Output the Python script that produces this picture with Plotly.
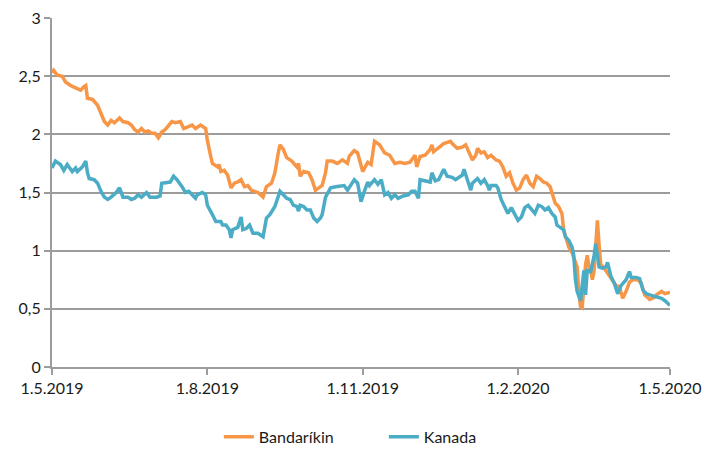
import pandas as pd
import plotly.graph_objects as go

start = pd.Timestamp("2019-05-01")

# Bandaríkin: days since 1.5.2019 and values
us_days = [0,1,3,6,8,11,14,17,19,20,21,24,27,29,31,33,35,37,40,42,45,47,49,51,53,55,57,59,61,63,
           65,67,69,71,73,76,78,80,83,85,88,91,92,94,95,98,99,100,102,104,106,108,110,112,114,116,118,120,122,125,
           127,130,132,134,135,137,139,142,145,146,147,149,152,154,156,158,160,162,163,166,169,172,175,176,179,181,184,187,189,191,
           194,197,200,203,206,209,212,215,216,218,221,224,225,226,229,232,236,237,240,243,245,246,249,251,252,254,256,258,260,263,
           265,267,269,271,273,275,277,279,281,283,285,287,289,291,293,295,297,298,300,302,303,304,306,308,311,312,313,314,315,316,
           317,318,319,320,321,322,323,324,325,327,329,331,333,334,336,338,340,342,344,347,349,350,351,354,357,358,361,363,366]
us_vals = [2.53,2.55,2.51,2.50,2.45,2.42,2.40,2.38,2.41,2.42,2.31,2.30,2.25,2.17,2.11,2.08,2.12,2.10,2.14,2.11,2.10,2.08,2.04,2.02,2.05,2.02,2.03,2.01,2.01,1.97,
           2.02,2.04,2.07,2.11,2.10,2.11,2.05,2.06,2.08,2.05,2.08,2.05,1.95,1.81,1.75,1.72,1.74,1.68,1.69,1.65,1.54,1.58,1.59,1.61,1.55,1.56,1.52,1.51,1.50,1.46,
           1.55,1.58,1.67,1.84,1.91,1.87,1.80,1.77,1.72,1.75,1.64,1.68,1.67,1.61,1.52,1.54,1.56,1.67,1.77,1.77,1.75,1.78,1.75,1.81,1.86,1.84,1.68,1.76,1.74,1.94,
           1.91,1.84,1.82,1.75,1.76,1.75,1.76,1.82,1.72,1.81,1.82,1.87,1.91,1.85,1.89,1.92,1.94,1.92,1.88,1.89,1.91,1.88,1.78,1.82,1.88,1.84,1.85,1.80,1.82,1.78,
           1.77,1.72,1.64,1.67,1.58,1.52,1.54,1.61,1.65,1.58,1.55,1.64,1.62,1.59,1.58,1.55,1.46,1.41,1.38,1.32,1.18,1.12,1.03,0.98,0.86,0.65,0.52,0.51,0.75,0.88,
           0.96,0.86,0.83,0.75,0.82,1.02,1.26,1.05,0.88,0.85,0.81,0.77,0.73,0.70,0.69,0.59,0.65,0.73,0.75,0.75,0.72,0.66,0.62,0.58,0.60,0.62,0.65,0.63,0.64]

# Kanada
ca_days = [0,2,5,7,9,12,14,15,18,20,21,22,25,27,29,31,33,35,38,40,42,45,47,49,51,53,56,58,62,64,
           65,68,70,72,74,77,79,81,83,85,86,89,91,92,95,97,100,101,103,105,106,107,110,112,113,115,117,119,122,125,
           127,129,132,135,137,139,141,143,145,146,147,149,151,153,155,157,159,160,162,165,168,171,173,175,177,179,181,183,185,187,
           188,191,193,195,197,199,201,203,205,208,211,213,215,217,218,221,224,225,227,229,232,234,237,239,241,243,244,246,248,249,
           252,254,256,258,259,260,263,264,266,268,270,272,274,276,278,280,282,284,286,288,290,292,294,296,298,299,301,303,304,306,
           308,309,310,311,313,314,315,316,317,319,321,322,323,324,326,328,329,331,333,335,337,340,342,343,346,348,350,352,354,356,
           358,361,363,366]
ca_vals = [1.71,1.77,1.74,1.69,1.74,1.68,1.71,1.68,1.72,1.77,1.67,1.62,1.61,1.58,1.51,1.46,1.44,1.46,1.50,1.54,1.46,1.46,1.44,1.45,1.48,1.46,1.50,1.46,1.46,1.47,
           1.58,1.59,1.59,1.64,1.61,1.55,1.50,1.51,1.48,1.45,1.48,1.50,1.48,1.39,1.31,1.25,1.25,1.22,1.22,1.18,1.11,1.18,1.20,1.29,1.18,1.19,1.22,1.15,1.15,1.12,
           1.28,1.31,1.38,1.51,1.48,1.45,1.44,1.39,1.38,1.34,1.39,1.38,1.35,1.35,1.28,1.25,1.28,1.31,1.46,1.54,1.55,1.56,1.56,1.52,1.56,1.61,1.58,1.42,1.51,1.59,
           1.56,1.61,1.57,1.61,1.48,1.50,1.45,1.48,1.45,1.47,1.48,1.51,1.51,1.45,1.61,1.60,1.59,1.67,1.60,1.61,1.70,1.64,1.63,1.61,1.63,1.65,1.70,1.61,1.52,1.58,
           1.62,1.58,1.61,1.56,1.52,1.56,1.56,1.54,1.44,1.38,1.32,1.37,1.31,1.26,1.29,1.37,1.39,1.35,1.32,1.39,1.38,1.35,1.37,1.32,1.29,1.22,1.20,1.18,1.12,1.09,
           1.03,0.96,0.75,0.65,0.57,0.69,0.83,0.62,0.83,0.82,0.95,1.06,0.95,0.86,0.85,0.86,0.90,0.78,0.72,0.63,0.70,0.75,0.82,0.77,0.77,0.76,0.66,0.63,0.62,0.61,
           0.60,0.59,0.57,0.53]

tick_dates = ["2019-05-01", "2019-08-01", "2019-11-01", "2020-02-01", "2020-05-01"]
tick_labels = ["1.5.2019", "1.8.2019", "1.11.2019", "1.2.2020", "1.5.2020"]

us_x = start + pd.to_timedelta(us_days, unit="D")
ca_x = start + pd.to_timedelta(ca_days, unit="D")

ORANGE = "#F79646"
TEAL = "#4BACC6"
GRID = "#9c9c9c"

fig = go.Figure()
fig.add_trace(go.Scatter(x=us_x, y=us_vals, mode="lines", name="Bandaríkin",
                         line=dict(color=ORANGE, width=3.5)))
fig.add_trace(go.Scatter(x=ca_x, y=ca_vals, mode="lines", name="Kanada",
                         line=dict(color=TEAL, width=3.5)))

fig.update_layout(
    width=707, height=451,
    margin=dict(l=52, r=37, t=18, b=84, autoexpand=False),
    paper_bgcolor="white", plot_bgcolor="white",
    separators=", ",
    font=dict(family="Lato, Carlito, sans-serif", size=16, color="#1a1a1a"),
    showlegend=True,
    legend=dict(orientation="h", x=0.27, xanchor="left", y=-0.2, yanchor="middle",
                font=dict(size=16), entrywidth=120, traceorder="normal"),
)
fig.update_xaxes(
    type="date", range=[tick_dates[0], tick_dates[-1]],
    tickmode="array", tickvals=tick_dates, ticktext=tick_labels,
    showgrid=False, showline=True, linecolor=GRID, linewidth=2,
    ticks="outside", ticklen=6, tickwidth=2, tickcolor=GRID,
    zeroline=False,
)
fig.update_yaxes(
    range=[0, 3], dtick=0.5, tick0=0,
    showgrid=True, gridcolor=GRID, gridwidth=2,
    showline=True, linecolor=GRID, linewidth=2,
    ticks="outside", ticklen=6, tickwidth=2, tickcolor=GRID,
    zeroline=False,
)

fig.write_html("out.html", config={"displayModeBar": False},
               post_script="document.body.style.margin='0';document.body.style.overflow='hidden';")
